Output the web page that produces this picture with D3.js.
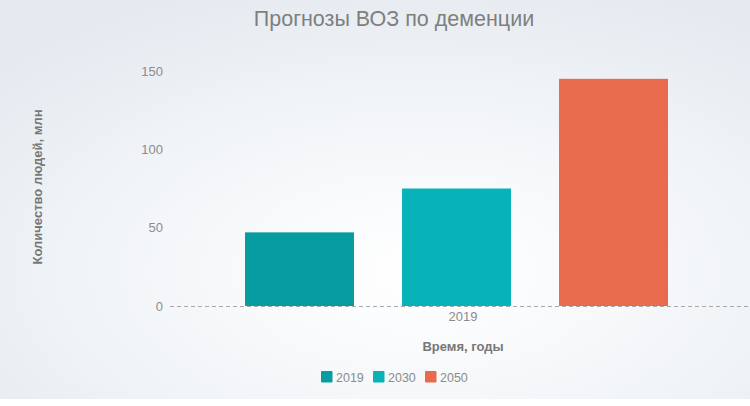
<!DOCTYPE html>
<html>
<head>
<meta charset="utf-8">
<script src="https://cdn.jsdelivr.net/npm/d3@7"></script>
<style>
  html, body { margin: 0; padding: 0; background: #fff; }
  svg { display: block; font-family: "Liberation Sans", Arial, sans-serif; }
</style>
</head>
<body>
<div id="chart"></div>
<script>
// chart data
const categories = ['2019']
const seriesNames = ['2019', '2030', '2050']
const seriesValues = [47, 75, 145]
const yTicks = [0, 50, 100, 150]
const colors = ['#079ca0', '#07b3b9', '#e76b4c']

const width = 750
const height = 406
const margin = {top: 71, right: -8, bottom: 100, left: 168}

const svg = d3.select('#chart').append('svg')
    .attr('width', width)
    .attr('height', height)

// background gradient
const defs = svg.append('defs')
const grad = defs.append('radialGradient')
    .attr('id', 'bg')
    .attr('cx', '0.56').attr('cy', '0.68').attr('r', '0.75')
grad.append('stop').attr('offset', '0%').attr('stop-color', '#ffffff')
grad.append('stop').attr('offset', '55%').attr('stop-color', '#f2f5f8')
grad.append('stop').attr('offset', '100%').attr('stop-color', '#e5eaf0')

svg.append('rect')
    .attr('width', width)
    .attr('height', 399)
    .attr('fill', 'url(#bg)')

let x0 = d3.scaleBand()
    .domain(categories)
    .range([margin.left, width - margin.right])

let x1 = d3.scaleBand()
    .domain(seriesNames)
    .paddingInner(0.306)
    .paddingOuter(0.153)

let y = d3.scaleLinear()
    .domain([0, 150])
    .range([height - margin.bottom, margin.top])

// title
svg.append('text')
    .attr('x', 394)
    .attr('y', 26)
    .attr('text-anchor', 'middle')
    .attr('fill', '#7f7f7f')
    .style('font-size', '21.5px')
    .text('Прогнозы ВОЗ по деменции')

// y axis (labels only)
let yAxis = d3.axisLeft(y).tickValues(yTicks).tickSize(0).tickPadding(5)
let gy = svg.append('g')
    .attr('transform', 'translate(' + margin.left + ',0)')
    .call(yAxis)
gy.select('.domain').remove()
gy.selectAll('text')
    .attr('fill', '#8c8c8c')
    .style('font-size', '13px')
    .attr('font-family', null)

// bars
const g = svg.append('g')
categories.forEach(function (c) {
  x1.range([x0(c) + 53, x0(c) + x0.bandwidth() - 66])
  g.selectAll('rect.bar')
    .data(seriesValues)
    .enter().append('rect')
      .attr('class', 'bar')
      .attr('x', function (d, i) { return x1(seriesNames[i]) })
      .attr('y', function (d) { return y(d) })
      .attr('width', x1.bandwidth())
      .attr('height', function (d) { return y(0) - y(d) })
      .attr('fill', function (d, i) { return colors[i] })
})

// zero line
svg.append('line')
    .attr('x1', 170)
    .attr('x2', width)
    .attr('y1', y(0) + 0.5)
    .attr('y2', y(0) + 0.5)
    .attr('stroke', '#a9a9a9')
    .attr('stroke-dasharray', '4,3')

// x axis
let xAxis = d3.axisBottom(x0).tickSize(0).tickPadding(6)
let gx = svg.append('g')
    .attr('transform', 'translate(0,' + y(0) + ')')
    .call(xAxis)
gx.select('.domain').remove()
gx.selectAll('text')
    .attr('fill', '#8c8c8c')
    .attr('font-family', null)
    .style('font-size', '13px')

// axis titles
svg.append('text')
    .attr('x', x0(categories[0]) + x0.bandwidth() / 2)
    .attr('y', 351)
    .attr('text-anchor', 'middle')
    .attr('fill', '#777')
    .style('font-size', '13px')
    .style('font-weight', 'bold')
    .text('Время, годы')

svg.append('text')
    .attr('transform', 'translate(42,187)rotate(-90)')
    .attr('text-anchor', 'middle')
    .attr('fill', '#777')
    .style('font-size', '13px')
    .style('font-weight', 'bold')
    .text('Количество людей, млн')

// legend
const legendX = [321, 373, 425]
const legend = svg.append('g')
    .selectAll('g')
    .data(seriesNames)
    .enter().append('g')
    .attr('transform', function (d, i) { return 'translate(' + legendX[i] + ',371)' })
legend.append('rect')
    .attr('width', 11.5)
    .attr('height', 11.5)
    .attr('rx', 1)
    .attr('fill', function (d, i) { return colors[i] })
legend.append('text')
    .attr('x', 15)
    .attr('y', 10.5)
    .attr('fill', '#8c8c8c')
    .style('font-size', '12.5px')
    .text(function (d) { return d })
</script>
</body>
</html>
